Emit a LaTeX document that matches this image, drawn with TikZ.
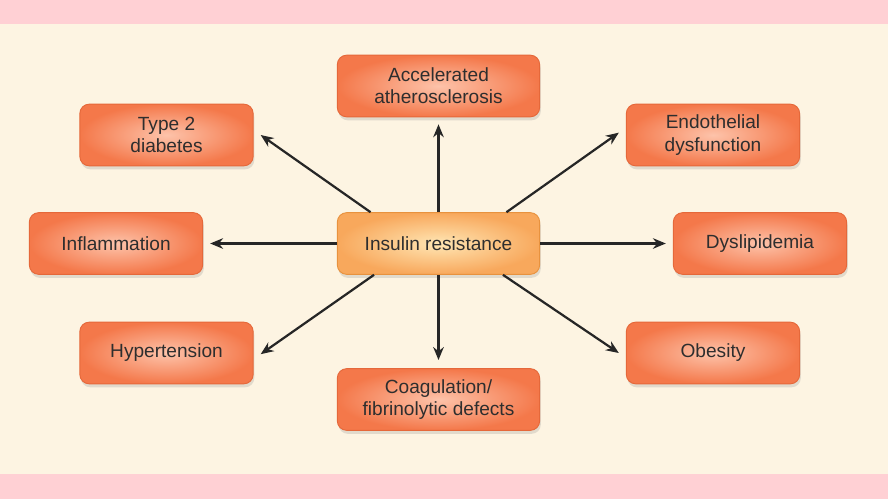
\documentclass[tikz,border=0pt]{standalone}
\usepackage{fontspec}
\setmainfont{Liberation Sans}
\usepackage{xcolor}
\usetikzlibrary{positioning,shapes,shadows,arrows.meta}

\definecolor{cream}{HTML}{FDF4E2}
\definecolor{band}{HTML}{FFD0D4}
\definecolor{boxin}{HTML}{FDC3AA}
\definecolor{boxout}{HTML}{F4784A}
\definecolor{boxline}{HTML}{E5683A}
\definecolor{hubin}{HTML}{FFE6B4}
\definecolor{hubout}{HTML}{F8A85C}
\definecolor{hubline}{HTML}{E8923E}
\definecolor{txt}{HTML}{2E2E2E}

\begin{document}
\begin{tikzpicture}[x=0.03cm,y=-0.03cm]
\tikzstyle{every node}+=[font=\fontsize{16.3}{19}\selectfont, text=txt, align=center]
\tikzstyle{effect}=[rectangle, rounded corners=8pt, draw=boxline, line width=0.8pt,
  inner color=boxin, outer color=boxout,
  drop shadow={opacity=0.22, shadow xshift=1pt, shadow yshift=-3pt}]
\tikzstyle{small}=[effect, minimum width=5.2cm, minimum height=1.85cm]
\tikzstyle{wide}=[effect, minimum width=6.07cm, minimum height=1.85cm]
\tikzstyle{hub}=[wide, draw=hubline, inner color=hubin, outer color=hubout]
\tikzstyle{link}=[draw=black!85, line width=1.9pt, -{Stealth[length=11pt,width=9pt]}]
% background
\fill [cream] (0,0) rectangle (888,499);
\fill [band] (0,0) rectangle (888,24);
\fill [band] (0,474) rectangle (888,499);
% nodes
\node [hub] (ir) at (438.5,243.5) {Insulin resistance};
\node [wide] (aa) at (438.5,86) {Accelerated\\atherosclerosis};
\node [wide] (cf) at (438.5,399.5) {Coagulation/\\fibrinolytic defects};
\node [small] (t2) at (166.5,135) {Type 2\\diabetes};
\node [small] (ed) at (713,135) {Endothelial\\dysfunction};
\node [small] (inf) at (116,243.5) {Inflammation};
\node [small] (dl) at (760,243.5) {Dyslipidemia};
\node [small] (ht) at (166.5,353) {Hypertension};
\node [small] (ob) at (713,353) {Obesity};
% arrows
\draw [link] (ir.north) -- ([yshift=-6]aa.south);
\draw [link] (ir.south) -- ([yshift=7]cf.north);
\draw [link] (ir.west) -- ([xshift=6]inf.east);
\draw [link] (ir.east) -- ([xshift=-6]dl.west);
\draw [link] ([xshift=-58]ir.north) -- ([xshift=6]t2.east);
\draw [link] ([xshift=58]ir.north) -- ([xshift=-6,yshift=2]ed.west);
\draw [link] ([xshift=-55]ir.south) -- ([xshift=6,yshift=-1]ht.east);
\draw [link] ([xshift=55]ir.south) -- ([xshift=-6]ob.west);
\end{tikzpicture}
\end{document}
